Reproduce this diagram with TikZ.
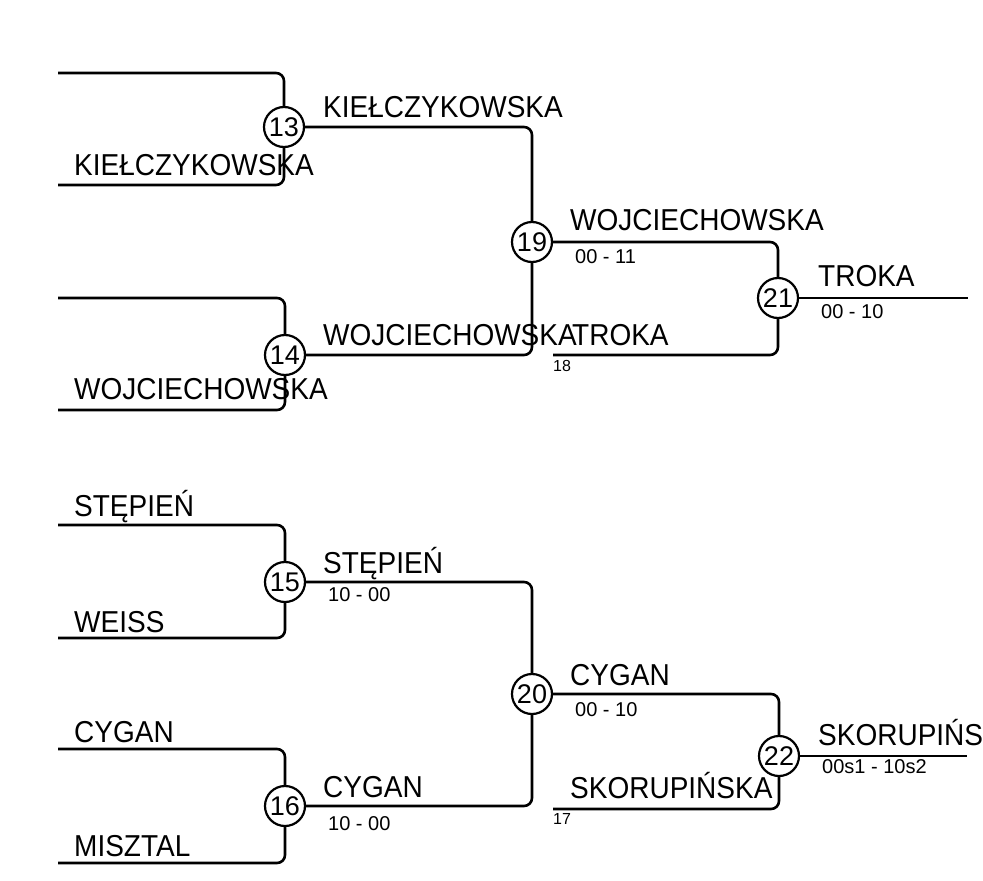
\documentclass[tikz,border=0pt]{standalone}
\usepackage{fontspec}
\setmainfont{Liberation Sans}
\begin{document}
\begin{tikzpicture}[x=1pt,y=-1pt,
  ln/.style={line width=2.6pt,rounded corners=8pt},
  mnum/.style={circle,draw,line width=2.2pt,minimum size=40pt,inner sep=0pt,font=\fontsize{27}{27}\selectfont},
  nm/.style={anchor=base west,inner sep=0pt,font=\fontsize{28}{28}\selectfont,yscale=1.08},
  sc/.style={anchor=base west,inner sep=0pt,font=\fontsize{20}{20}\selectfont},
  sm/.style={anchor=base west,inner sep=0pt,font=\fontsize{16}{16}\selectfont}]
\useasboundingbox (0,0) rectangle (983,881);
% match nodes
\node[mnum] (m13) at (284,127) {13};
\node[mnum] (m14) at (285,355) {14};
\node[mnum] (m19) at (532,242) {19};
\node[mnum] (m21) at (778,298) {21};
\node[mnum] (m15) at (285,582) {15};
\node[mnum] (m16) at (285,806) {16};
\node[mnum] (m20) at (532,694) {20};
\node[mnum] (m22) at (779,756) {22};
% free ends
\coordinate (a13t) at (58,73);
\coordinate (a13b) at (58,185);
\coordinate (a14t) at (58,298);
\coordinate (a14b) at (58,410);
\coordinate (a21b) at (553,355);
\coordinate (e21) at (968,298);
\coordinate (a15t) at (58,525);
\coordinate (a15b) at (58,638);
\coordinate (a16t) at (58,749);
\coordinate (a16b) at (58,863);
\coordinate (a22b) at (553,809);
\coordinate (e22) at (967,756);
% connectors
\draw[ln] (a13t) -| (m13);
\draw[ln] (a13b) -| (m13);
\draw[ln] (a14t) -| (m14);
\draw[ln] (a14b) -| (m14);
\draw[ln] (m13) -| (m19);
\draw[ln] (m14) -| (m19);
\draw[ln] (m19) -| (m21);
\draw[ln] (a21b) -| (m21);
\draw[ln] (m21) -- (e21);
\draw[ln] (a15t) -| (m15);
\draw[ln] (a15b) -| (m15);
\draw[ln] (a16t) -| (m16);
\draw[ln] (a16b) -| (m16);
\draw[ln] (m15) -| (m20);
\draw[ln] (m16) -| (m20);
\draw[ln] (m20) -| (m22);
\draw[ln] (a22b) -| (m22);
\draw[ln] (m22) -- (e22);
% labels
\node[nm] (t1) at (74,175) {KIEŁCZYKOWSKA};
\node[nm] (t2) at (74,399) {WOJCIECHOWSKA};
\node[nm] (t3) at (323,117) {KIEŁCZYKOWSKA};
\node[nm] (t4) at (323,345) {WOJCIECHOWSKA};
\node[nm] (t5) at (570,230) {WOJCIECHOWSKA};
\node[sc] (s5) at (575,263) {00 - 11};
\node[nm] (t6) at (572,345) {TROKA};
\node[sm] (s6) at (553,371) {18};
\node[nm] (t7) at (818,286) {TROKA};
\node[sc] (s7) at (821,318) {00 - 10};
\node[nm] (b1) at (74,516) {STĘPIEŃ};
\node[nm] (b2) at (74,632) {WEISS};
\node[nm] (b3) at (74,742) {CYGAN};
\node[nm] (b4) at (74,856) {MISZTAL};
\node[nm] (b5) at (323,573) {STĘPIEŃ};
\node[sc] (c5) at (328,601) {10 - 00};
\node[nm] (b6) at (323,797) {CYGAN};
\node[sc] (c6) at (328,830) {10 - 00};
\node[nm] (b7) at (570,685) {CYGAN};
\node[sc] (c7) at (575,716) {00 - 10};
\node[nm] (b8) at (570,798) {SKORUPIŃSKA};
\node[sm] (c8) at (553,824) {17};
\node[nm] (b9) at (818,745) {SKORUPIŃS};
\node[sc] (c9) at (822,773) {00s1 - 10s2};
\end{tikzpicture}
\end{document}
